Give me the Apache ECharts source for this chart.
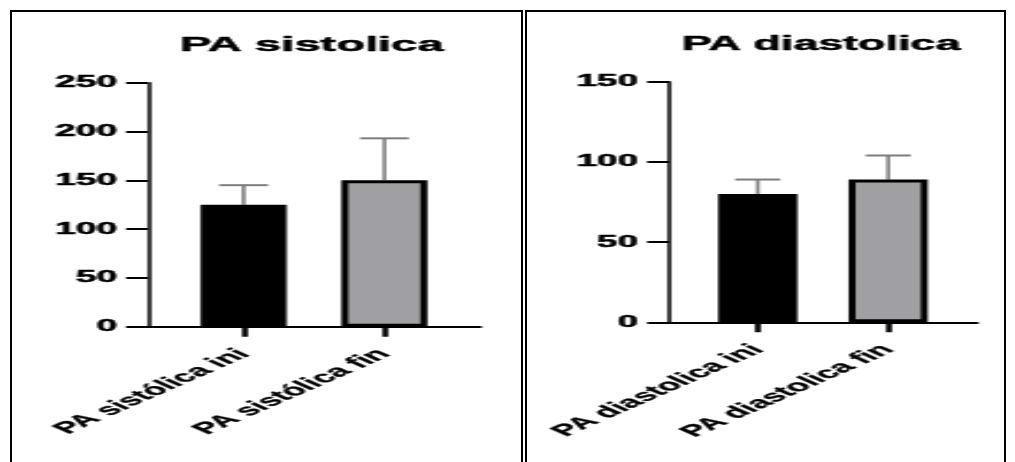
<!DOCTYPE html>
<html>
<head>
<meta charset="utf-8">
<script src="https://cdn.jsdelivr.net/npm/echarts@6/dist/echarts.min.js"></script>
<style>
  html, body { margin: 0; padding: 0; background: #fff; overflow: hidden; }
  #wrap { position: relative; width: 1015px; height: 462px; overflow: hidden; }
  /* the figure is drawn narrow and stretched horizontally */
  #chart { position: absolute; left: 0; top: 0; width: 441.3px; height: 462px;
           transform: scaleX(2.3); transform-origin: 0 0; }
  .rule { position: absolute; background: #000; }
</style>
</head>
<body>
<div id="wrap">
  <div id="chart"></div>
  <!-- table cell frames -->
  <div class="rule" style="left:10px;top:10px;width:513px;height:2px;"></div>
  <div class="rule" style="left:525px;top:10px;width:481px;height:2px;"></div>
  <div class="rule" style="left:10px;top:10px;width:2px;height:452px;"></div>
  <div class="rule" style="left:521px;top:10px;width:2px;height:452px;"></div>
  <div class="rule" style="left:525px;top:10px;width:2px;height:452px;"></div>
  <div class="rule" style="left:1004px;top:10px;width:2px;height:452px;"></div>
</div>
<script>
// Systolic blood pressure (mean and SD)
const sysCategories = ['PA sistólica ini', 'PA sistólica fin'];
const sysMean = [125, 150];
const sysSD = [20, 43];
const sysAxis = { min: 0, max: 250, interval: 50 };

// Diastolic blood pressure (mean and SD)
const diaCategories = ['PA diastolica ini', 'PA diastolica fin'];
const diaMean = [80, 89];
const diaSD = [9, 15];
const diaAxis = { min: 0, max: 150, interval: 50 };

const titles = ['PA sistolica', 'PA diastolica'];
const barFills = ['#000000', '#a0a0a4'];

const FONT = '"Liberation Sans", Arial, Helvetica, sans-serif';
// heavy black lettering
const HEAVY = { color: '#000', fontFamily: FONT, fontWeight: 'bold', textBorderColor: '#000', textBorderWidth: 0.5 };

function xAxisFor(idx, cats) {
  return {
    gridIndex: idx, type: 'value', min: -0.68, max: 1.68,
    splitLine: { show: false },
    axisLine: { show: true, onZero: false, lineStyle: { color: '#000', width: 2 } },
    axisTick: { show: true, customValues: [0, 1], length: 10, lineStyle: { color: '#000', width: 2.5 } },
    axisLabel: Object.assign({
      show: true, customValues: [0, 1], rotate: 45, margin: 25, fontSize: 16,
      formatter: v => cats[Math.round(v)]
    }, HEAVY, { textBorderWidth: 0.3 })
  };
}

function yAxisFor(idx, ax) {
  return {
    gridIndex: idx, type: 'value', min: ax.min, max: ax.max, interval: ax.interval,
    splitLine: { show: false },
    axisLine: { show: true, onZero: false, lineStyle: { color: '#000', width: 1.5 } },
    axisTick: { show: true, length: 9.5, lineStyle: { color: '#000', width: 2 } },
    axisLabel: Object.assign({ fontSize: 16, margin: 13.5 }, HEAVY)
  };
}

function barSeries(idx, means, barWidth) {
  return {
    type: 'bar', xAxisIndex: idx, yAxisIndex: idx, z: 3,
    barWidth: barWidth,
    data: means.map((m, i) => ({
      value: [i, m],
      itemStyle: { color: barFills[i], borderColor: '#000', borderWidth: 3 }
    }))
  };
}

function errorSeries(idx, means, sds, capHalf) {
  return {
    type: 'custom', xAxisIndex: idx, yAxisIndex: idx, z: 1,
    data: means.map((m, i) => [i, m, m + sds[i]]),
    renderItem: function (params, api) {
      const base = api.coord([api.value(0), api.value(1)]);
      const top = api.coord([api.value(0), api.value(2)]);
      return {
        type: 'group',
        children: [
          { type: 'line', shape: { x1: base[0], y1: base[1], x2: top[0], y2: top[1] },
            style: { stroke: '#7d7d7d', lineWidth: 1.6 } },
          { type: 'line', shape: { x1: top[0] - capHalf, y1: top[1], x2: top[0] + capHalf, y2: top[1] },
            style: { stroke: '#7d7d7d', lineWidth: 2 } }
        ]
      };
    }
  };
}

const chart = echarts.init(document.getElementById('chart'));
chart.setOption({
  animation: false,
  backgroundColor: '#fff',
  title: [
    { text: titles[0], left: 130.5, top: 30, textAlign: 'center',
      textStyle: Object.assign({ fontSize: 20.5 }, HEAVY) },
    { text: titles[1], left: 352, top: 30, textAlign: 'center',
      textStyle: Object.assign({ fontSize: 19.5 }, HEAVY) }
  ],
  grid: [
    { left: 64.3, top: 82.7, width: 144.4, height: 244 },
    { left: 290.9, top: 81.7, width: 133.8, height: 240.6 }
  ],
  xAxis: [xAxisFor(0, sysCategories), xAxisFor(1, diaCategories)],
  yAxis: [yAxisFor(0, sysAxis), yAxisFor(1, diaAxis)],
  series: [
    barSeries(0, sysMean, 37.4),
    errorSeries(0, sysMean, sysSD, 10.6),
    barSeries(1, diaMean, 34.4),
    errorSeries(1, diaMean, diaSD, 9.8)
  ]
});
</script>
</body>
</html>
